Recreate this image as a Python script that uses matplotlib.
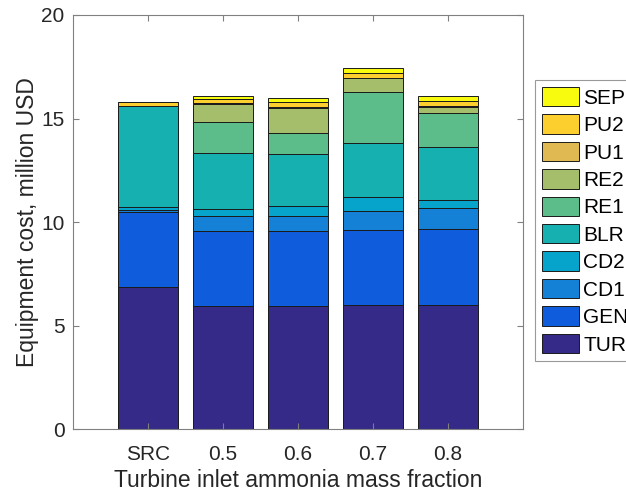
import matplotlib
matplotlib.use('Agg')
import matplotlib.pyplot as plt
import numpy as np

plt.rcParams['font.family'] = ['Liberation Sans', 'DejaVu Sans']

# categories and component costs (million USD)
categories = ['SRC', '0.5', '0.6', '0.7', '0.8']
components = ['TUR', 'GEN', 'CD1', 'CD2', 'BLR', 'RE1', 'RE2', 'PU1', 'PU2', 'SEP']

tur = [6.88, 5.96, 5.96, 6.01, 6.01]
gen = [3.59, 3.60, 3.61, 3.60, 3.64]
cd1 = [0.10, 0.74, 0.71, 0.94, 1.03]
cd2 = [0.18, 0.34, 0.52, 0.68, 0.40]
blr = [4.85, 2.68, 2.49, 2.60, 2.54]
re1 = [0.00, 1.51, 1.01, 2.44, 1.64]
re2 = [0.00, 0.87, 1.23, 0.67, 0.29]
pu1 = [0.03, 0.05, 0.05, 0.04, 0.05]
pu2 = [0.16, 0.19, 0.20, 0.24, 0.27]
sep = [0.00, 0.16, 0.19, 0.24, 0.21]

colors = ['#352a87', '#0f5cdd', '#1481d6', '#06a4ca', '#17b0b0',
          '#5cbd8a', '#a5be6b', '#e1b952', '#fcce2e', '#f9fb0e']

series = [tur, gen, cd1, cd2, blr, re1, re2, pu1, pu2, sep]

fig = plt.figure(figsize=(6.26, 4.94), dpi=100)
ax = fig.add_axes([73 / 626, 1 - 429.3 / 494, 450 / 626, 414.3 / 494])

x = np.arange(1, len(categories) + 1)
bottom = np.zeros(len(categories))
handles = []
for name, vals, c in zip(components, series, colors):
    vals = np.array(vals)
    h = ax.bar(x, vals, width=0.8, bottom=bottom, color=c,
               edgecolor='#1a1a1a', linewidth=0.7, label=name)
    handles.append(h)
    bottom += vals

ax.set_xlim(0, 6)
ax.set_ylim(0, 20)
ax.set_xticks(x)
ax.set_xticklabels(categories)
ax.set_yticks([0, 5, 10, 15, 20])

axis_gray = '#808080'
for s in ax.spines.values():
    s.set_color(axis_gray)
    s.set_linewidth(0.8)
ax.tick_params(direction='in', length=4, width=0.8, color=axis_gray,
               labelsize=15, labelcolor='#262626', top=True, right=True)
ax.tick_params(axis='x', pad=11)
ax.tick_params(axis='y', pad=6)

ax.set_xlabel('Turbine inlet ammonia mass fraction', fontsize=16.5,
              color='#262626', labelpad=4)
ax.set_ylabel('Equipment cost, million USD', fontsize=16.5,
              color='#262626', labelpad=2)

# legend sits partly outside the figure, as in the original
leg = fig.legend(handles[::-1], components[::-1], loc='upper left',
                 bbox_to_anchor=(535 / 626, 1 - 80 / 494), fontsize=15,
                 frameon=True, fancybox=False, borderaxespad=0,
                 handlelength=1.78, handleheight=1.05, labelspacing=0.32,
                 handletextpad=0.2, borderpad=0.33)
leg.get_frame().set_edgecolor(axis_gray)
leg.get_frame().set_linewidth(0.8)

fig.savefig('out.png', dpi=100)
